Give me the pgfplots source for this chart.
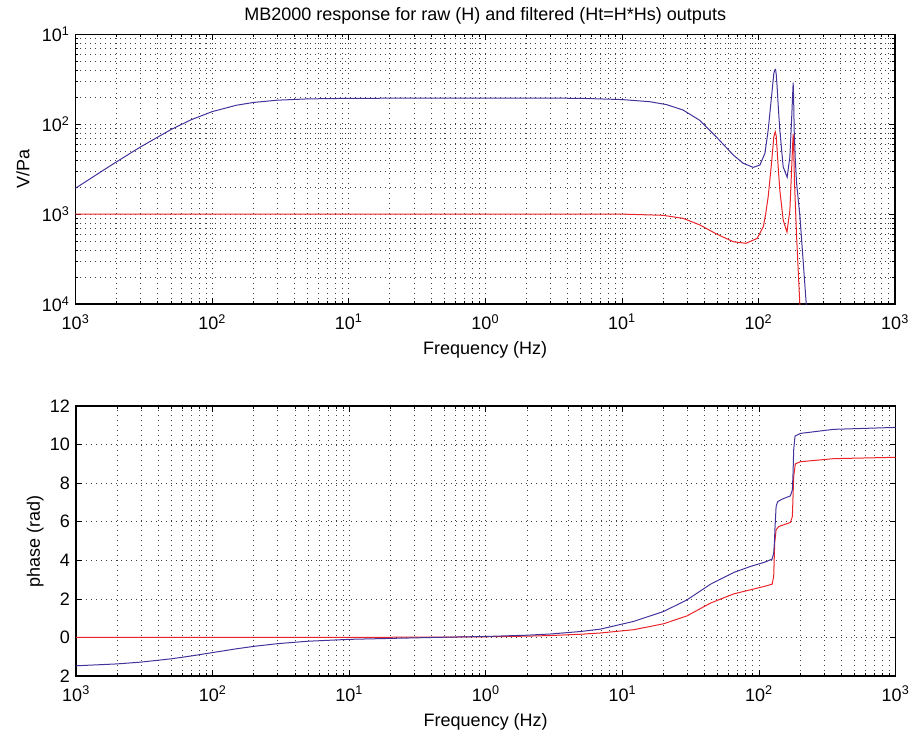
\documentclass[border=0pt]{standalone}
\usepackage{pgfplots}
\pgfplotsset{compat=1.18}
\usepackage{fontspec}
\setmainfont{Liberation Sans}
\definecolor{bl}{RGB}{68,50,155}
\definecolor{rd}{RGB}{235,35,40}
\begin{document}
\fontsize{18}{21}\selectfont
\begin{tikzpicture}
\useasboundingbox (0,0) rectangle (914pt,-735pt);
\begin{axis}[
  scale only axis, width=819.5pt,
  xmode=log, xmin=1e-3, xmax=1e3,
  xtick={1e-3,1e-2,1e-1,1,10,100,1000},
  xticklabels={10\textsuperscript{3},10\textsuperscript{2},10\textsuperscript{1},10\textsuperscript{0},10\textsuperscript{1},10\textsuperscript{2},10\textsuperscript{3}},
  minor xtick={2e-3,3e-3,4e-3,5e-3,6e-3,7e-3,8e-3,9e-3,
               2e-2,3e-2,4e-2,5e-2,6e-2,7e-2,8e-2,9e-2,
               0.2,0.3,0.4,0.5,0.6,0.7,0.8,0.9,
               2,3,4,5,6,7,8,9,20,30,40,50,60,70,80,90,
               200,300,400,500,600,700,800,900},
  tick align=inside,
  major tick length=6pt, minor tick length=3pt,
  axis line style={line width=1.2pt},
  every tick/.style={black, line width=0.6pt},
  grid style={black!75, line width=0.6pt, dash pattern=on 0.6pt off 4.4pt},
  tick label style={font=\fontsize{18}{21}\selectfont},
  xticklabel style={yshift=-4pt},
  label style={font=\fontsize{18}{21}\selectfont},
  xlabel={Frequency (Hz)},
  at={(75.5pt,-304pt)}, anchor=south west, height=269.7pt,
  ymode=log, ymin=1e-4, ymax=1e-1,
  ytick={1e-4,1e-3,1e-2,1e-1},
  yticklabels={10\textsuperscript{4},10\textsuperscript{3},10\textsuperscript{2},10\textsuperscript{1}},
  minor ytick={2e-4,3e-4,4e-4,5e-4,6e-4,7e-4,8e-4,9e-4,
               2e-3,3e-3,4e-3,5e-3,6e-3,7e-3,8e-3,9e-3,
               2e-2,3e-2,4e-2,5e-2,6e-2,7e-2,8e-2,9e-2},
  xmajorgrids, xminorgrids, ymajorgrids, yminorgrids,
  ylabel={V/Pa},
  title={MB2000 response for raw (H) and filtered (Ht=H*Hs) outputs},
  title style={font=\fontsize{18}{21}\selectfont, yshift=-2pt},
]
\addplot[bl, line width=1pt] coordinates {
(0.001,0.00194) (0.0015,0.00289) (0.002,0.00382) (0.003,0.0056) (0.005,0.00872)
(0.007,0.01118) (0.01,0.01379) (0.015,0.01623) (0.02,0.01744) (0.03,0.0185)
(0.05,0.01912) (0.1,0.0194) (0.3,0.01949) (1,0.0195) (3,0.0195) (5,0.0194)
(10,0.0188) (16,0.0178) (21.3,0.0165) (28,0.0144) (37,0.0111) (49,0.00726)
(65.5,0.00454) (77.5,0.00367) (91.7,0.00331) (102.6,0.00352) (111.6,0.00474)
(117.9,0.0086) (124.7,0.0202) (129.7,0.0368) (131.5,0.0400) (133.5,0.0407)
(135,0.036) (137.1,0.0261) (140,0.0150) (143.5,0.0086) (151.8,0.00336)
(162.4,0.00257) (170,0.00436) (175.8,0.0132) (178,0.021) (179.7,0.029)
(181,0.020) (182.8,0.0086) (186,0.0042) (190.4,0.0022) (201.5,0.00093)
(224,0.0001) (235,0.00004)
};
\addplot[rd, line width=1pt] coordinates {
(0.001,0.001) (1,0.001) (10,0.001) (20,0.00097) (28.1,0.000897) (37.3,0.000757)
(49.4,0.0006) (65.5,0.000493) (81,0.000473) (97.9,0.000537) (108.6,0.000724)
(113,0.00100) (117.9,0.00156) (124.7,0.00367) (129.7,0.00726) (132.8,0.00826)
(135,0.0074) (137.1,0.00516) (140,0.0031) (143.5,0.00185) (151.8,0.00086)
(161.9,0.00063) (170,0.00111) (175.8,0.00367) (178,0.0058) (179.7,0.00778)
(181.5,0.0050) (183.5,0.0024) (190.4,0.00056) (201,0.0001) (210,0.00004)
};
\end{axis}
\begin{axis}[
  scale only axis, width=819.5pt,
  xmode=log, xmin=1e-3, xmax=1e3,
  xtick={1e-3,1e-2,1e-1,1,10,100,1000},
  xticklabels={10\textsuperscript{3},10\textsuperscript{2},10\textsuperscript{1},10\textsuperscript{0},10\textsuperscript{1},10\textsuperscript{2},10\textsuperscript{3}},
  minor xtick={2e-3,3e-3,4e-3,5e-3,6e-3,7e-3,8e-3,9e-3,
               2e-2,3e-2,4e-2,5e-2,6e-2,7e-2,8e-2,9e-2,
               0.2,0.3,0.4,0.5,0.6,0.7,0.8,0.9,
               2,3,4,5,6,7,8,9,20,30,40,50,60,70,80,90,
               200,300,400,500,600,700,800,900},
  tick align=inside,
  major tick length=6pt, minor tick length=3pt,
  axis line style={line width=1.2pt},
  every tick/.style={black, line width=0.6pt},
  grid style={black!75, line width=0.6pt, dash pattern=on 0.6pt off 4.4pt},
  tick label style={font=\fontsize{18}{21}\selectfont},
  xticklabel style={yshift=-4pt},
  label style={font=\fontsize{18}{21}\selectfont},
  xlabel={Frequency (Hz)},
  at={(76pt,-676pt)}, anchor=south west, height=270pt,
  ymin=-2, ymax=12,
  ytick={-2,0,2,4,6,8,10,12},
  yticklabels={2,0,2,4,6,8,10,12},
  xmajorgrids, xminorgrids, ymajorgrids,
  ylabel={phase (rad)},
  ylabel shift=-6pt,
]
\addplot[rd, line width=1pt] coordinates {
(0.001,0) (0.1,0.003) (0.5,0.017) (1,0.033) (2,0.066) (3,0.1) (5,0.167)
(6.9,0.23) (12.1,0.40) (20.1,0.71) (29.8,1.12) (44.2,1.78) (65.5,2.26)
(86.7,2.47) (110,2.65) (124.9,2.76) (128.3,3.16) (130.5,4.89) (133.6,5.58)
(139.7,5.75) (170,5.96) (175.8,6.27) (179.7,8.34) (184.9,9.0) (201.5,9.11)
(353,9.27) (1000,9.34)
};
\addplot[bl, line width=1pt] coordinates {
(0.001,-1.471) (0.002,-1.373) (0.003,-1.279) (0.005,-1.107) (0.007,-0.96)
(0.01,-0.785) (0.015,-0.588) (0.02,-0.464) (0.03,-0.322) (0.05,-0.197)
(0.1,-0.0997) (0.2,-0.05) (0.5,0.011) (1,0.05) (2,0.115) (3,0.18) (5,0.31)
(6.9,0.43) (12.1,0.83) (20.1,1.35) (29.8,1.95) (44.2,2.76) (65.5,3.37)
(86.7,3.68) (110,3.9) (124.9,4.06) (128.3,4.37) (130,5.0) (131.3,5.75)
(133.6,6.78) (137.1,7.04) (147.8,7.17) (170,7.34) (175.8,7.65) (178,8.6)
(179.7,9.72) (183.9,10.44) (201.5,10.58) (353,10.79) (1000,10.89)
};
\end{axis}
\end{tikzpicture}
\end{document}
